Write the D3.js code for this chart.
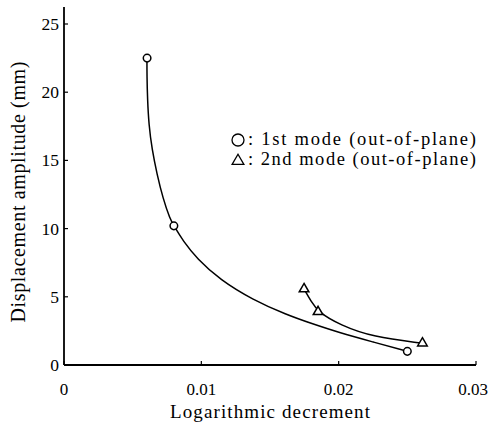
<!DOCTYPE html>
<html>
<head>
<meta charset="utf-8">
<script src="https://cdn.jsdelivr.net/npm/d3@7"></script>
<style>
    body { margin: 0; background: #fff; }
    text { font-family: "Liberation Serif", "DejaVu Serif", serif; fill: #000; }
</style>
</head>
<body>
<script>
    // measured points
    var mode1Pts = [[0.00605, 22.5], [0.0080, 10.2], [0.0250, 1.0]],
        mode2Pts = [[0.01748, 5.57], [0.0185, 3.9], [0.0261, 1.6]];

    // traced fitted curves
    var mode1Curve = [
        [0.00604, 22.5], [0.00604, 21.2], [0.00608, 19.5], [0.00618, 17.6],
        [0.00641, 15.8], [0.00677, 14.0], [0.00721, 12.2], [0.00772, 10.7],
        [0.0080, 10.2], [0.00867, 9.1], [0.00968, 7.8], [0.01136, 6.25],
        [0.01376, 4.77], [0.01624, 3.67], [0.01791, 3.08], [0.0201, 2.35],
        [0.0225, 1.69], [0.0250, 1.0]
    ];
    var mode2Curve = [
        [0.01748, 5.57], [0.0180, 4.65], [0.0185, 3.9], [0.0201, 2.93],
        [0.0225, 2.05], [0.0261, 1.6]
    ];

    var xTicks = [0, 0.01, 0.02, 0.03],
        xTickLabels = ["0", "0.01", "0.02", "0.03"],
        yTicks = [0, 5, 10, 15, 20, 25],
        legendLabels = [": 1st mode (out-of-plane)", ": 2nd mode (out-of-plane)"];

    var width = 490, height = 424,
        x0 = 64, x1 = 476, y0 = 365, y1 = 7;

    var x = d3.scaleLinear().domain([0, 0.03]).range([x0, x1]),
        y = d3.scaleLinear().domain([0, 25]).range([y0, 24]);

    var svg = d3.select("body").append("svg")
        .attr("width", width)
        .attr("height", height);

    // axes lines
    svg.append("line")
        .attr("x1", x0).attr("x2", x0)
        .attr("y1", y0).attr("y2", y1)
        .attr("stroke", "#000").attr("stroke-width", 1.8);
    svg.append("line")
        .attr("x1", x0).attr("x2", x1)
        .attr("y1", y0).attr("y2", y0)
        .attr("stroke", "#000").attr("stroke-width", 1.8);

    // y ticks
    svg.selectAll(".ytick").data(yTicks).enter().append("line")
        .attr("x1", x0).attr("x2", x0 + 4)
        .attr("y1", function (d) { return y(d); })
        .attr("y2", function (d) { return y(d); })
        .attr("stroke", "#000").attr("stroke-width", 1.2);
    svg.selectAll(".ylab").data(yTicks).enter().append("text")
        .attr("x", x0 - 5)
        .attr("y", function (d) { return y(d) + 6; })
        .attr("text-anchor", "end")
        .attr("font-size", 17.5)
        .text(function (d) { return d; });

    // x ticks
    svg.selectAll(".xtick").data(xTicks).enter().append("line")
        .attr("x1", function (d) { return x(d); })
        .attr("x2", function (d) { return x(d); })
        .attr("y1", y0).attr("y2", y0 - 4)
        .attr("stroke", "#000").attr("stroke-width", 1.2);
    svg.selectAll(".xlab").data(xTicks).enter().append("text")
        .attr("x", function (d) { return Math.min(x(d), 473); })
        .attr("y", y0 + 30)
        .attr("text-anchor", "middle")
        .attr("font-size", 17)
        .text(function (d, i) { return xTickLabels[i]; });

    // axis titles
    svg.append("text")
        .attr("x", 270).attr("y", 418)
        .attr("text-anchor", "middle")
        .attr("font-size", 19)
        .attr("textLength", 200)
        .attr("lengthAdjust", "spacing")
        .text("Logarithmic decrement");
    svg.append("text")
        .attr("transform", "translate(25,192)rotate(-90)")
        .attr("text-anchor", "middle")
        .attr("font-size", 20)
        .attr("textLength", 261)
        .attr("lengthAdjust", "spacing")
        .text("Displacement amplitude (mm)");

    var line = d3.line()
        .x(function (d) { return x(d[0]); })
        .y(function (d) { return y(d[1]); })
        .curve(d3.curveBasis);

    [mode1Curve, mode2Curve].forEach(function (c) {
        svg.append("path")
            .attr("d", line(c))
            .attr("fill", "none")
            .attr("stroke", "#000")
            .attr("stroke-width", 1.5);
    });

    var tri = d3.symbol().type(d3.symbolTriangle);

    svg.selectAll(".m1").data(mode1Pts).enter().append("circle")
        .attr("cx", function (d) { return x(d[0]); })
        .attr("cy", function (d) { return y(d[1]); })
        .attr("r", 3.8)
        .attr("fill", "#fff").attr("stroke", "#000").attr("stroke-width", 1.5);

    svg.selectAll(".m2").data(mode2Pts).enter().append("path")
        .attr("d", tri.size(40))
        .attr("transform", function (d) { return "translate(" + x(d[0]) + "," + y(d[1]) + ")"; })
        .attr("fill", "#fff").attr("stroke", "#000").attr("stroke-width", 1.5);

    // legend
    var lg = svg.append("g").attr("transform", "translate(238,140)");
    lg.append("circle").attr("r", 6)
        .attr("fill", "#fff").attr("stroke", "#000").attr("stroke-width", 1.3);
    lg.append("path").attr("d", tri.size(60)())
        .attr("transform", "translate(0,21)")
        .attr("fill", "#fff").attr("stroke", "#000").attr("stroke-width", 1.3);
    lg.selectAll("text").data(legendLabels).enter().append("text")
        .attr("x", 10)
        .attr("y", function (d, i) { return 5 + i * 20; })
        .attr("font-size", 18.5)
        .attr("textLength", 228)
        .attr("lengthAdjust", "spacing")
        .text(function (d) { return d; });
</script>
</body>
</html>
